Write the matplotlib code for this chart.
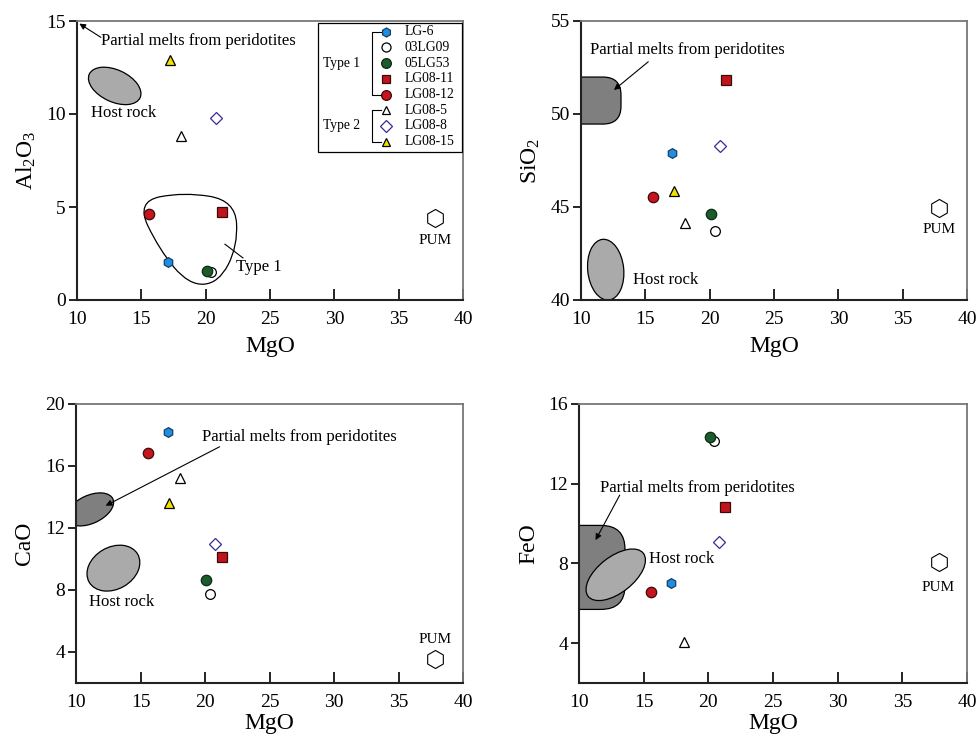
import numpy as np
import matplotlib
matplotlib.use('Agg')
import matplotlib.pyplot as plt
from matplotlib import transforms
from matplotlib.patches import Ellipse, FancyBboxPatch, PathPatch, Rectangle
from matplotlib.path import Path

plt.rcParams['font.family'] = ['Liberation Serif', 'DejaVu Serif']
plt.rcParams['mathtext.fontset'] = 'custom'
plt.rcParams['mathtext.rm'] = 'Liberation Serif'
plt.rcParams['mathtext.default'] = 'regular'

# samples
samples = ['LG-6', '03LG09', '05LG53', 'LG08-11', 'LG08-12', 'LG08-5', 'LG08-8', 'LG08-15']
mgo = [17.1, 20.4, 20.1, 21.3, 15.6, 18.1, 20.8, 17.2]
al2o3 = [2.05, 1.53, 1.55, 4.73, 4.64, 8.8, 9.8, 12.9]
sio2 = [47.92, 43.7, 44.6, 51.83, 45.52, 44.14, 48.3, 45.86]
cao = [18.21, 7.72, 8.65, 10.13, 16.86, 15.2, 11.0, 13.6]
feo = [7.03, 14.15, 14.36, 10.83, 6.57, 4.07, 9.1, np.nan]

# primitive upper mantle
pum_mgo = 37.8
pum = {'al2o3': 4.42, 'sio2': 44.93, 'cao': 3.53, 'feo': 8.07}

markers = ['h', 'o', 'o', 's', 'o', '^', 'D', '^']
faces = ['#1e8ee0', 'white', '#1b5b2c', '#c0141c', '#c8141e', 'white', 'white', '#f2e200']
edges = ['#1a3d66', 'black', '#0c2a14', '#3a0a0a', '#3a0a0a', 'black', '#3a2a9a', 'black']
sizes = [7, 7, 7.5, 6.5, 7.5, 6.5, 6.5, 6.5]

fig = plt.figure(figsize=(9.78, 7.35), dpi=100)
W, H = 978.0, 735.0

def make_ax(l, r, t, b, xpad=6):
    ax = fig.add_axes([l / W, 1 - b / H, (r - l) / W, (b - t) / H])
    for s in ['left', 'bottom']:
        ax.spines[s].set_color('#222222')
        ax.spines[s].set_linewidth(1.5)
    for s in ['top', 'right']:
        ax.spines[s].set_color('#777777')
        ax.spines[s].set_linewidth(1.3)
    ax.tick_params(axis='x', direction='in', length=8, width=1.2, labelsize=14, pad=8)
    ax.tick_params(axis='y', direction='out', length=6, width=1.2, labelsize=14, pad=2)
    ax.set_xlim(10, 40)
    ax.set_xticks([10, 15, 20, 25, 30, 35, 40])
    ax.set_xlabel('MgO', fontsize=17, labelpad=xpad)
    return ax

def blob(ax, cx, cy, w, h, ang, color, kind='ellipse', r=20):
    # shape sized in pixels, anchored at a data point
    tr = transforms.Affine2D().scale(fig.dpi / 100.0) + \
        transforms.ScaledTranslation(cx, cy, ax.transData)
    if kind == 'ellipse':
        p = Ellipse((0, 0), w, h, angle=ang, transform=tr, fc=color, ec='black', lw=0.9, zorder=1)
    else:
        p = FancyBboxPatch((w[0], h[0]), w[1] - w[0], h[1] - h[0],
                           boxstyle='round,pad=0,rounding_size=%d' % r,
                           transform=tr, fc=color, ec='black', lw=0.9, zorder=1)
    ax.add_patch(p)

def points(ax, y, pum_y, pum_txt_dy):
    for i in range(len(samples)):
        ax.plot(mgo[i], y[i], marker=markers[i], ls='none', ms=sizes[i],
                mfc=faces[i], mec=edges[i], mew=0.9, zorder=3)
    ax.plot(pum_mgo, pum_y, marker='h', ls='none', ms=13, mfc='white', mec='black', mew=0.8, zorder=3)
    ax.text(pum_mgo, pum_y + pum_txt_dy, 'PUM', fontsize=11, ha='center', va='center')

def arrow(ax, xy, xytext):
    ax.annotate('', xy=xy, xytext=xytext,
                arrowprops=dict(arrowstyle='-|>', color='black', lw=0.8,
                                mutation_scale=9, shrinkA=0, shrinkB=0))

# ---- Al2O3 ----
ax1 = make_ax(77, 463, 21, 300)
ax1.set_ylim(0, 15)
ax1.set_yticks([0, 5, 10, 15])
ax1.set_ylabel('Al$_2$O$_3$', fontsize=17, labelpad=6)
blob(ax1, 12.93, 11.51, 56, 32, -25, '#aaaaaa')
ax1.text(11.1, 10.05, 'Host rock', fontsize=12, va='center')
arrow(ax1, (10.18, 14.86), (11.86, 14.12))
ax1.text(11.9, 13.95, 'Partial melts from peridotites', fontsize=12, va='center')

# outline of the Type 1 field
ctrl = [(14.6, 5.3), (18.3, 5.8), (22.3, 5.35), (22.5, 2.9), (21.0, 0.9),
        (18.7, 0.8), (16.4, 2.7)]
n = len(ctrl)
mids = [((ctrl[i][0] + ctrl[(i + 1) % n][0]) / 2, (ctrl[i][1] + ctrl[(i + 1) % n][1]) / 2) for i in range(n)]
verts = [mids[-1]]
codes = [Path.MOVETO]
for i in range(n):
    verts += [ctrl[i], mids[i]]
    codes += [Path.CURVE3, Path.CURVE3]
ax1.add_patch(PathPatch(Path(verts, codes), fc='none', ec='black', lw=0.9, zorder=2))
ax1.plot([21.5, 22.9], [3.0, 2.26], color='black', lw=0.8)
ax1.text(22.35, 1.75, 'Type 1', fontsize=12, va='center')
points(ax1, al2o3, pum['al2o3'], -1.2)

# legend drawn inside the Al2O3 panel
ax1.add_patch(Rectangle((0.6246, 0.5315), 0.3724, 0.4603, transform=ax1.transAxes,
                        fc='white', ec='black', lw=0.9, zorder=4))
rows = [0.9616 - 0.0563 * i for i in range(8)]
for i, name in enumerate(samples):
    ax1.plot(0.80, rows[i], marker=markers[i], ls='none', ms=sizes[i] - 0.5,
             mfc=faces[i], mec=edges[i], mew=0.9, transform=ax1.transAxes, zorder=5, clip_on=False)
    ax1.text(0.849, rows[i], name, fontsize=9.8, va='center', transform=ax1.transAxes, zorder=5)
for top, bot, lab in [(rows[0], rows[4], 'Type 1'), (rows[5], rows[7], 'Type 2')]:
    ax1.plot([0.787, 0.763, 0.763, 0.787], [top, top, bot, bot], color='black', lw=0.8,
             transform=ax1.transAxes, zorder=5)
    ax1.text(0.637, (top + bot) / 2, lab, fontsize=9.8, va='center', transform=ax1.transAxes, zorder=5)

# ---- SiO2 ----
ax2 = make_ax(581, 967, 21, 300)
ax2.set_ylim(40, 55)
ax2.set_yticks([40, 45, 50, 55])
ax2.set_ylabel('SiO$_2$', fontsize=17, labelpad=6)
blob(ax2, 10.0, 50.75, (-30, 40), (-24, 23), 0, '#7f7f7f', kind='box', r=18)
blob(ax2, 11.92, 41.63, 36, 61, 6, '#aaaaaa')
ax2.text(14.05, 41.1, 'Host rock', fontsize=12, va='center')
arrow(ax2, (12.56, 51.29), (15.23, 52.81))
ax2.text(10.7, 53.45, 'Partial melts from peridotites', fontsize=12, va='center')
points(ax2, sio2, pum['sio2'], -1.15)

# ---- CaO ----
ax3 = make_ax(76, 463, 404, 683, xpad=1)
ax3.set_ylim(2, 20)
ax3.set_yticks([4, 8, 12, 16, 20])
ax3.set_ylabel('CaO', fontsize=17, labelpad=7)
blob(ax3, 11.1, 13.2, 50, 28, 25, '#7f7f7f')
blob(ax3, 12.9, 9.41, 56, 42, 30, '#aaaaaa')
ax3.text(11.0, 7.2, 'Host rock', fontsize=12, va='center')
arrow(ax3, (12.3, 13.44), (21.13, 17.24))
ax3.text(19.8, 17.9, 'Partial melts from peridotites', fontsize=12, va='center')
points(ax3, cao, pum['cao'], 1.3)

# ---- FeO ----
ax4 = make_ax(579, 967, 404, 683, xpad=1)
ax4.set_ylim(2, 16)
ax4.set_yticks([4, 8, 12, 16])
ax4.set_ylabel('FeO', fontsize=17, labelpad=6)
blob(ax4, 10.0, 7.8, (-40, 46), (-42, 42), 0, '#7f7f7f', kind='box', r=24)
blob(ax4, 12.84, 7.43, 70, 36, 38, '#aaaaaa')
ax4.text(15.45, 8.2, 'Host rock', fontsize=12, va='center')
arrow(ax4, (11.28, 9.17), (13.15, 11.43))
ax4.text(11.6, 11.8, 'Partial melts from peridotites', fontsize=12, va='center')
points(ax4, feo, pum['feo'], -1.3)

fig.savefig('out.png', dpi=100)
